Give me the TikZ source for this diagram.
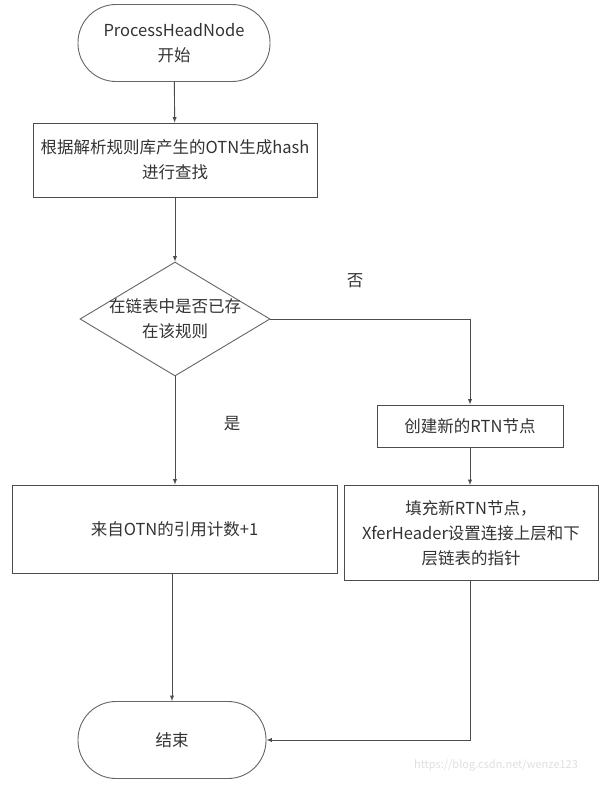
\documentclass[tikz,border=0pt]{standalone}
\usepackage{fontspec}
\setmainfont{Noto Sans CJK SC}
\usetikzlibrary{shapes.geometric}

\begin{document}
\begin{tikzpicture}[x=1pt, y=-1pt, every node/.style={font=\fontsize{16.5}{25}\selectfont, text=black!80, align=center},
  flowline/.style={draw=black!70, line width=0.9pt},
  terminal/.style={draw=black!60, line width=0.9pt, rounded corners=38pt, minimum height=77pt, inner sep=0pt},
  procbox/.style={draw=black!70, line width=0.9pt, inner sep=0pt}]
\fill[white] (0,0) rectangle (613,790);
\node[terminal, minimum width=192pt] (start) at (174,43) {ProcessHeadNode\\开始};
\node[procbox, minimum width=284pt, minimum height=74pt] (find) at (175,160) {根据解析规则库产生的OTN生成hash\\进行查找};
\node[draw=black!60, line width=0.9pt, shape=diamond, minimum width=190pt, minimum height=114pt, inner sep=0pt,
  label=center:{在链表中是否已存\\在该规则}] (check) at (175,319) {};
\node[procbox, minimum width=186pt, minimum height=42pt] (newrtn) at (470,426) {创建新的RTN节点};
\node[procbox, minimum width=325pt, minimum height=88pt] (plusone) at (174.5,529) {来自OTN的引用计数+1};
\node[procbox, minimum width=254pt, minimum height=95pt] (fill) at (471,533) {填充新RTN节点，\\XferHeader设置连接上层和下\\层链表的指针};
\node[terminal, minimum width=188pt] (end) at (172,740) {结束};
\node (no) at (355,281) {否};
\node (yes) at (232,424) {是};
\draw[flowline, -latex] (start) -- (find);
\draw[flowline, -latex] (find) -- (check);
\draw[flowline, -latex] (check.east) -| (newrtn.north);
\draw[flowline, -latex] (check.south) -- (check.south |- plusone.north);
\draw[flowline, -latex] (newrtn) -- (newrtn |- fill.north);
\draw[flowline, -latex] (plusone.south -| end.north) -- (end.north);
\draw[flowline, -latex] (fill.south -| newrtn) |- (end.east);
\node[font=\fontsize{11}{13}\selectfont, text=black!12] (mark) at (496,765) {https://blog.csdn.net/wenze123};
\end{tikzpicture}
\end{document}
